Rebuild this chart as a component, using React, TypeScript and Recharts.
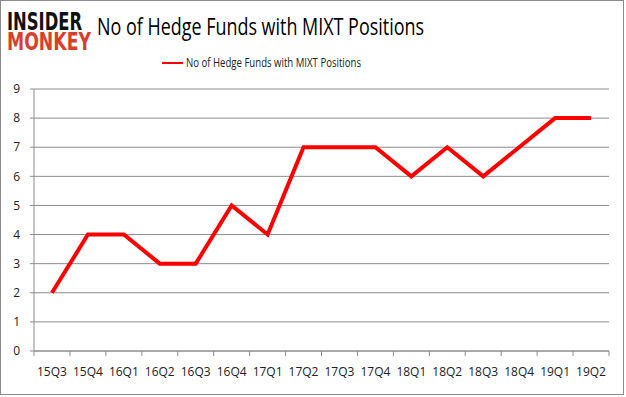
import { LineChart, Line, XAxis, YAxis, CartesianGrid } from "recharts";

const quarters = [
  "15Q3", "15Q4", "16Q1", "16Q2", "16Q3", "16Q4", "17Q1", "17Q2",
  "17Q3", "17Q4", "18Q1", "18Q2", "18Q3", "18Q4", "19Q1", "19Q2",
];
const funds = [2, 4, 4, 3, 3, 5, 4, 7, 7, 7, 6, 7, 6, 7, 8, 8];
const yTicks = [0, 1, 2, 3, 4, 5, 6, 7, 8, 9];

const seriesName = "No of Hedge Funds with MIXT Positions";
const data = quarters.map((q, i) => ({ quarter: q, value: funds[i] }));

const W = 626;
const H = 397;
const PLOT_LEFT = 34;
const PLOT_RIGHT = 17;
const band = (W - PLOT_LEFT - PLOT_RIGHT) / quarters.length;
const gridColor = "#8c8c8c";
const font = "'Open Sans', 'DejaVu Sans', sans-serif";

const XTick = (props: any) => {
  const { x, y, payload, index } = props;
  const left = x - band / 2;
  return (
    <g>
      <line x1={left} x2={left} y1={y} y2={y + 5} stroke={gridColor} />
      {index === quarters.length - 1 && (
        <line x1={x + band / 2} x2={x + band / 2} y1={y} y2={y + 5} stroke={gridColor} />
      )}
      <text x={x} y={y + 25} textAnchor="middle" fontSize={12} fill="#222" fontFamily={font}>
        {payload.value}
      </text>
    </g>
  );
};

export default function App() {
  return (
    <div style={{ position: "absolute", left: 0, top: 0, width: W, height: H, background: "#fff" }}>
      <LineChart width={W} height={H} data={data} margin={{ top: 89, right: PLOT_RIGHT, bottom: 16, left: 0 }}>
        <rect x={0.5} y={0.5} width={W - 3} height={H - 3} fill="none" stroke="#8c8c8c" />
        <g transform="translate(7,30) scale(1,1.5)">
          <text x={0} y={0} fontSize={16} fontWeight={900} fill="#111" fontFamily="'DejaVu Sans', sans-serif" textLength={75} lengthAdjust="spacingAndGlyphs">
            INSIDER
          </text>
        </g>
        <g transform="translate(7,50) scale(1,1.5)">
          <text x={0} y={0} fontSize={16} fontWeight={900} fill="#d9402b" fontFamily="'DejaVu Sans', sans-serif" textLength={84} lengthAdjust="spacingAndGlyphs">
            MONKEY
          </text>
        </g>
        <text x={97} y={35} fontSize={24} fill="#000" fontFamily={font} textLength={327} lengthAdjust="spacingAndGlyphs">
          {seriesName}
        </text>
        <line x1={162} x2={183} y1={63} y2={63} stroke="#ff0000" strokeWidth={2} />
        <text x={186} y={67} fontSize={12} fill="#222" fontFamily={font} textLength={175} lengthAdjust="spacingAndGlyphs">
          {seriesName}
        </text>
        <CartesianGrid vertical={false} stroke={gridColor} />
        <XAxis
          dataKey="quarter"
          stroke={gridColor}
          height={30}
          tickLine={false}
          tickSize={0}
          tickMargin={0}
          tick={<XTick />}
          interval={0}
          padding={{ left: band / 2, right: band / 2 }}
        />
        <YAxis
          domain={[0, 9]}
          ticks={yTicks}
          width={PLOT_LEFT}
          stroke={gridColor}
          tickSize={4}
          tickMargin={10}
          tick={{ fontSize: 12, fill: "#222", fontFamily: font }}
          interval={0}
        />
        <Line
          type="linear"
          dataKey="value"
          name={seriesName}
          stroke="#ff0000"
          strokeWidth={4}
          dot={false}
          isAnimationActive={false}
        />
      </LineChart>
    </div>
  );
}
